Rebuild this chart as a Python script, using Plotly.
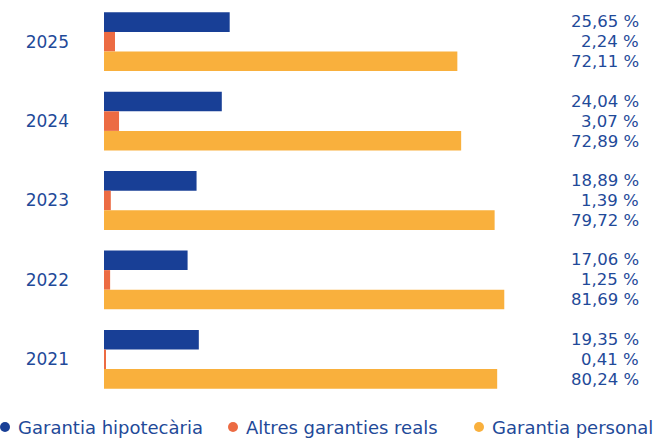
import plotly.graph_objects as go

# Loan portfolio by type of guarantee (% of total), 2021-2025
years = ["2025", "2024", "2023", "2022", "2021"]
hipotecaria = [25.65, 24.04, 18.89, 17.06, 19.35]
altres_reals = [2.24, 3.07, 1.39, 1.25, 0.41]
personal = [72.11, 72.89, 79.72, 81.69, 80.24]

series_names = ["Garantia hipotecària", "Altres garanties reals", "Garantia personal"]
series_values = [hipotecaria, altres_reals, personal]
series_colors = ["#183f96", "#ec6b43", "#f9b03d"]

TEXT_COLOR = "#1f4a99"
FONT = "DejaVu Sans"

W, H = 664, 438
M_L, M_R, M_T, M_B = 104, 23, 2, 39
PLOT_W = W - M_L - M_R
PLOT_H = H - M_T - M_B


def px_to_paper_x(px):
    return (px - M_L) / PLOT_W


def px_to_paper_y(py):
    return (H - M_B - py) / PLOT_H


fig = go.Figure()
for name, vals, col in zip(series_names, series_values, series_colors):
    fig.add_trace(go.Bar(
        y=years, x=vals, orientation="h", name=name,
        marker=dict(color=col, line=dict(width=0)),
        showlegend=False, hoverinfo="x+name",
    ))


def fmt(v):
    return f"{v:.2f}".replace(".", ",") + " %"


annotations = []
shapes = []
shifts = [20, 0, -20]
for vals, dy in zip(series_values, shifts):
    for i, v in enumerate(vals):
        annotations.append(dict(
            x=1, xref="paper", y=i, yref="y", yshift=dy,
            text=fmt(v), showarrow=False, xanchor="right", yanchor="middle",
            font=dict(family=FONT, size=16.5, color=TEXT_COLOR),
        ))

# legend row along the bottom edge: coloured dot + label
legend_dot_px = [5, 233, 479]
legend_y_px = 427
for name, col, dx in zip(series_names, series_colors, legend_dot_px):
    shapes.append(dict(
        type="circle", xref="paper", yref="paper",
        xsizemode="pixel", ysizemode="pixel",
        xanchor=px_to_paper_x(dx), yanchor=px_to_paper_y(legend_y_px),
        x0=-5, x1=5, y0=-5, y1=5,
        fillcolor=col, line=dict(width=0),
    ))
    annotations.append(dict(
        x=px_to_paper_x(dx + 11), xref="paper",
        y=px_to_paper_y(legend_y_px), yref="paper",
        text=name, showarrow=False, xanchor="left", yanchor="middle",
        font=dict(family=FONT, size=18, color=TEXT_COLOR),
    ))

fig.update_layout(
    width=W, height=H,
    margin=dict(l=M_L, r=M_R, t=M_T, b=M_B),
    paper_bgcolor="white", plot_bgcolor="white",
    barmode="group", bargap=0.26, bargroupgap=0,
    annotations=annotations, shapes=shapes,
    font=dict(family=FONT, color=TEXT_COLOR),
)
fig.update_xaxes(range=[0, PLOT_W / 4.9], visible=False, fixedrange=True)
fig.update_yaxes(
    type="category", categoryorder="array", categoryarray=years,
    range=[len(years) - 0.5, -0.5], showgrid=False, showline=False, zeroline=False,
    ticks="", ticklabelstandoff=34,
    tickfont=dict(family=FONT, size=17, color=TEXT_COLOR),
    fixedrange=True,
)

fig.write_html("out.html")
